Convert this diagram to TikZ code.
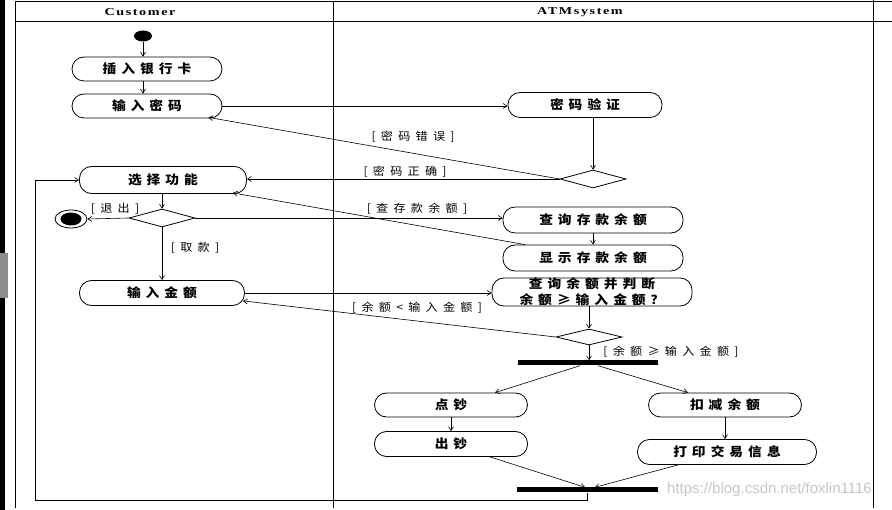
\documentclass[tikz,border=0pt]{standalone}
\usepackage{fontspec}
\setmainfont{Liberation Serif}
\newfontfamily\cjk[FakeStretch=1.1,LetterSpace=40]{Noto Sans CJK SC}
\newfontfamily\cjkl[FakeStretch=1.1,LetterSpace=48]{Noto Sans CJK SC}
\newfontfamily\hdr[FakeStretch=1.35,LetterSpace=15]{Liberation Serif}
\newfontfamily\wm{Liberation Sans}
\usetikzlibrary{shapes.geometric,arrows.meta,calc}
\begin{document}
\begin{tikzpicture}[x=1pt,y=-1pt,
  act/.style 2 args={draw, rectangle, rounded corners=12pt, inner sep=0pt,
    minimum width=#1, minimum height=#2, align=center,
    font=\cjk\bfseries\fontsize{12.5}{16}\selectfont, line width=0.8pt},
  dec/.style={draw, diamond, minimum width=66pt, minimum height=18pt, inner sep=0pt, line width=0.8pt},
  bar/.style={fill=black, draw=none, inner sep=0pt, minimum height=5pt},
  arr/.style={-{Straight Barb[length=4pt,width=5pt]}, line width=0.6pt},
  lbl/.style={font=\cjkl\fontsize{11}{12}\selectfont, inner sep=0pt},
  lane/.style={line width=1pt},
  hdrtxt/.style={font=\hdr\bfseries\fontsize{10.5}{11}\selectfont, inner sep=0pt}]
\useasboundingbox (0,0) rectangle (892,510);
\fill[white] (0,0) rectangle (892,510);
% scan edge
\fill[black] (0,0) rectangle (5,510);
\fill[black!45] (0,253) rectangle (8,298);
% swimlanes
\draw[lane] (15,2) -- (892,2);
\draw[lane] (15,22) -- (892,22);
\draw[lane] (15,2) -- (15,508);
\draw[lane] (333,2) -- (333,508);
\draw[lane] (873,0) -- (873,508);
\node[hdrtxt] (hc) at (140,12) {Customer};
\node[hdrtxt] (ha) at (580,12) {ATMsystem};
% nodes
\node[ellipse, fill=black, minimum width=18pt, minimum height=11pt, inner sep=0pt] (start) at (143,36) {};
\node[act={150pt}{24pt}] (ins) at (147,69) {插入银行卡};
\node[act={150pt}{24pt}] (pw) at (147,106) {输入密码};
\node[act={154pt}{25pt}] (ver) at (585,105) {密码验证};
\node[dec] (d1) at (593,179) {};
\node[act={167pt}{27pt}] (sel) at (163,180) {选择功能};
\node[dec] (d2) at (162,218) {};
\node[ellipse, draw, line width=0.8pt, minimum width=32pt, minimum height=18pt, inner sep=0pt] (endn) at (71,219) {};
\node[ellipse, fill=black, minimum width=21pt, minimum height=13pt, inner sep=0pt] (endi) at (71,219) {};
\node[act={180pt}{26pt}] (qry) at (593,220) {查询存款余额};
\node[act={180pt}{26pt}] (shw) at (593,258) {显示存款余额};
\node[act={165pt}{25pt}] (amt) at (162,293) {输入金额};
\node[act={200pt}{28pt}] (chk) at (592,292) {查询余额并判断\\余额≥输入金额？};
\node[dec, minimum height=16pt] (d3) at (589,337) {};
\node[bar, minimum width=140pt] (f1) at (588,363) {};
\node[act={153pt}{24pt}] (dc) at (451,405) {点钞};
\node[act={153pt}{25pt}] (cc) at (451,444) {出钞};
\node[act={153pt}{24pt}] (kj) at (725,405) {扣减余额};
\node[act={179pt}{25pt}] (dy) at (727,452) {打印交易信息};
\node[bar, minimum width=141pt] (f2) at (587,490) {};
\coordinate (lp) at (35,500);
% connectors
\draw[arr] (start) -- (start |- ins.north);
\draw[arr] (start |- ins.south) -- (start |- pw.north);
\draw[arr] (pw.east) -- (pw.east -| ver.west);
\draw[arr] (d1.north |- ver.south) -- (d1.north);
\draw[arr] (d1.west) -- ([xshift=-14pt,yshift=1pt]pw.south east);
\draw[arr] (d1.west) -- (d1.west -| sel.east);
\draw[arr] (sel.south -| d2.north) -- (d2.north);
\draw[arr] (d2.west) -- (endn.east);
\draw[arr] (d2.east) -- (d2.east -| qry.west);
\draw[arr] (qry.south) -- (shw.north);
\draw[arr] ([xshift=-68pt]shw.north) -- ([xshift=-14pt,yshift=1pt]sel.south east);
\draw[arr] (d2.south) -- (d2.south |- amt.north);
\draw[arr] (amt.east) -- (amt.east -| chk.west);
\draw[arr] (d3.north |- chk.south) -- (d3.north);
\draw[arr] (d3.west) -- ([xshift=-2pt,yshift=5pt]amt.south east);
\draw[arr] (d3.south) -- (d3.south |- f1.north);
\draw[arr] ([xshift=-8pt]f1.south) -- ([xshift=44pt]dc.north);
\draw[arr] ([xshift=10pt]f1.south) -- ([xshift=-37pt]kj.north);
\draw[arr] (dc.south) -- (cc.north);
\draw[arr] (kj.south) -- (kj.south |- dy.north);
\draw[arr] ([xshift=39pt]cc.south) -- ([xshift=-2pt]f2.north);
\draw[arr] ([xshift=-49pt]dy.south) -- ([xshift=8pt]f2.north);
\draw[arr] (f2.south) |- (lp) |- (sel.west);
% guard labels
\node[lbl] (l1) at (413,137) {[密码错误]};
\node[lbl] (l2) at (405,172) {[密码正确]};
\node[lbl] (l3) at (115,209) {[退出]};
\node[lbl] (l4) at (417,209) {[查存款余额]};
\node[lbl] (l5) at (195,248) {[取款]};
\node[lbl] (l6) at (417,308) {[余额<输入金额]};
\node[lbl] (l7) at (671,352) {[余额≥输入金额]};
% watermark
\node[font=\wm\fontsize{15}{17}\selectfont, text=black!22, inner sep=0pt, anchor=west] (wmk) at (667,490) {https://blog.csdn.net/foxlin1116};
\end{tikzpicture}
\end{document}
